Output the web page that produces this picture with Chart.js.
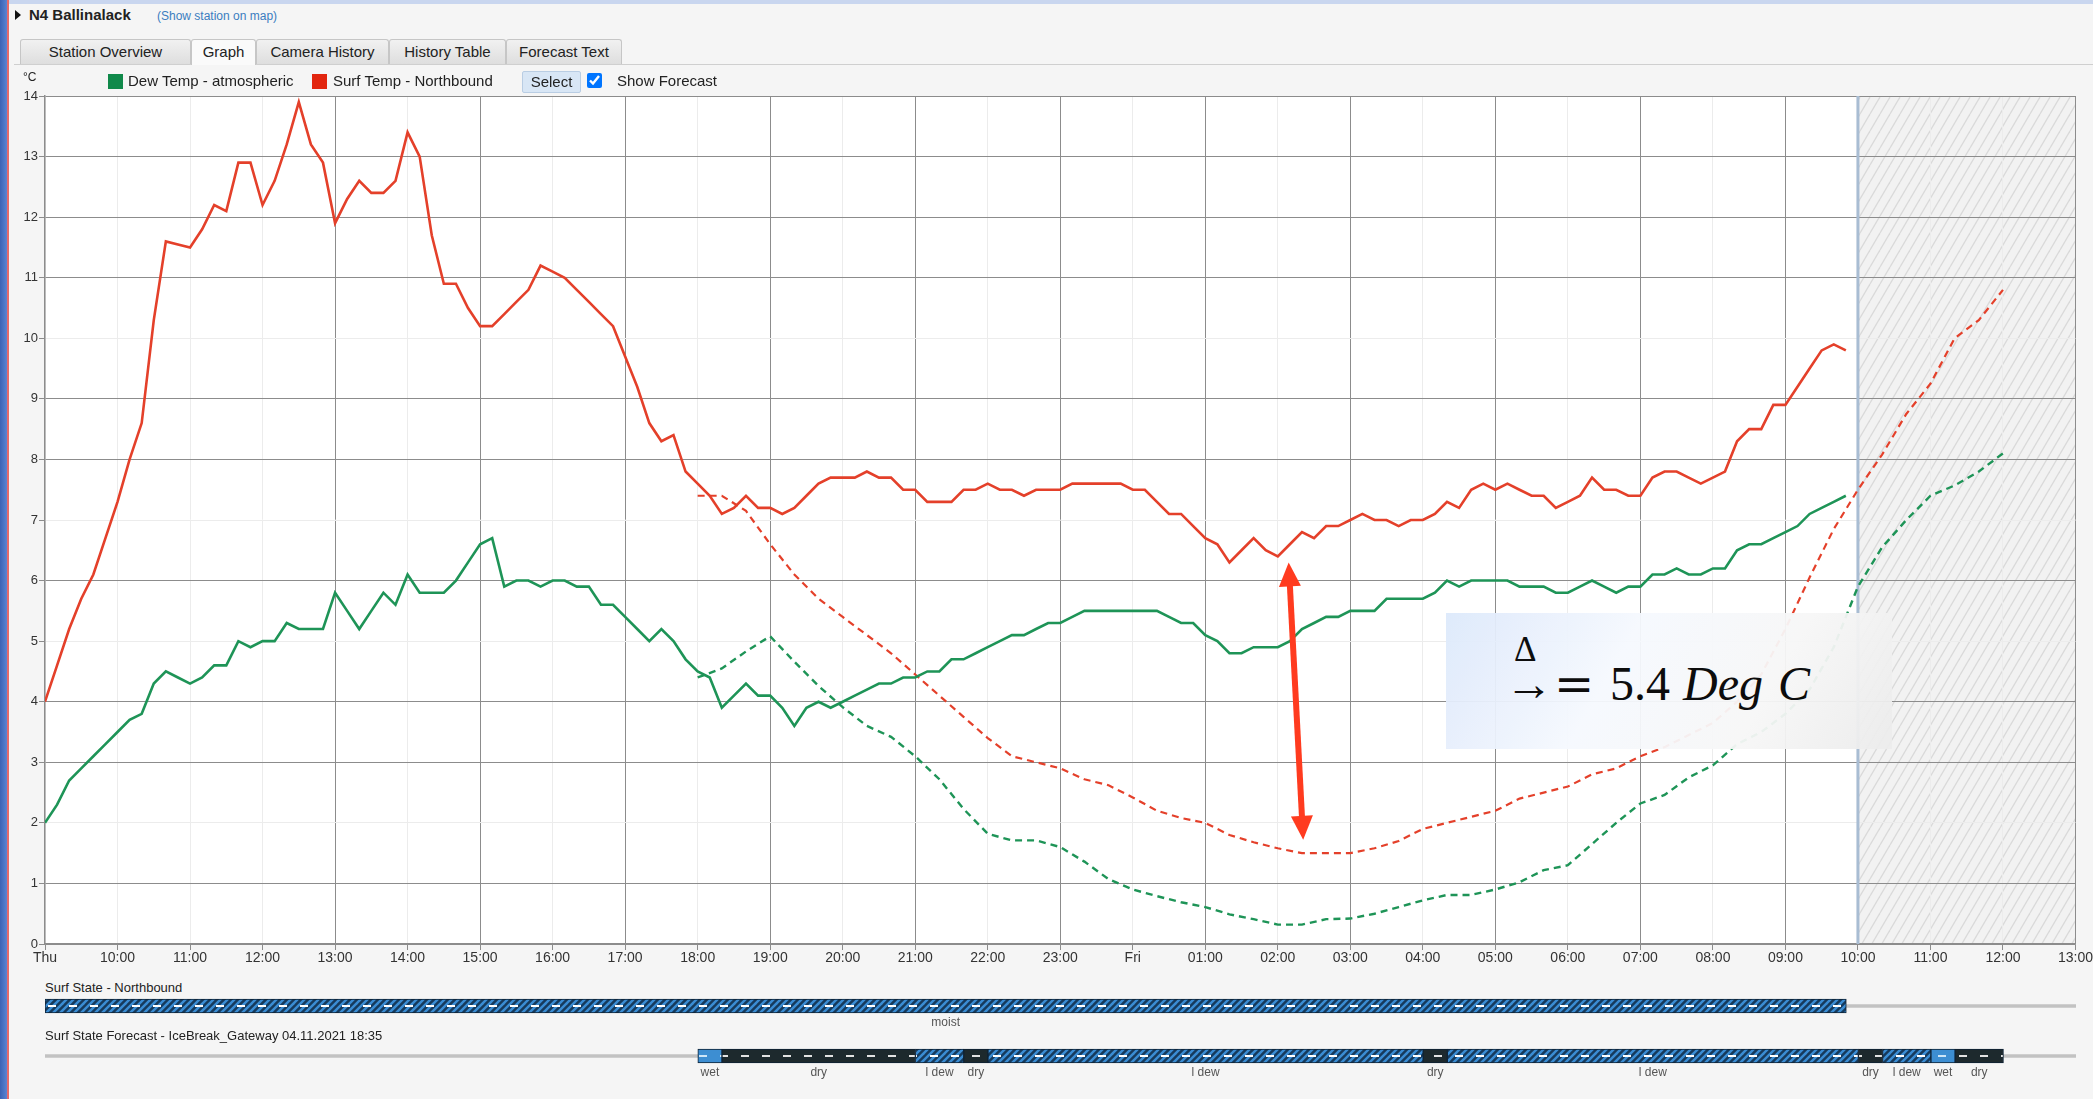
<!DOCTYPE html>
<html>
<head>
<meta charset="utf-8">
<script src="https://cdn.jsdelivr.net/npm/chart.js@4.4.1/dist/chart.umd.min.js"></script>
<style>
  html, body { margin: 0; padding: 0; }
  body { width: 2093px; height: 1099px; position: relative; overflow: hidden; background: #f5f5f5;
         font-family: "Liberation Sans", Arial, sans-serif; color: #222; }
  .abs { position: absolute; white-space: nowrap; }
  .tab { position: absolute; top: 39px; height: 24px; line-height: 24px; text-align: center; font-size: 15px;
         border: 1px solid #c6c6c6; border-bottom: none; border-radius: 3px 3px 0 0;
         background: linear-gradient(#f1f1f1, #dedede); color: #222; }
  .tab.active { background: #fafafa; height: 25px; z-index: 2; }
  .legend-box { position: absolute; top: 74px; width: 15px; height: 15px; }
  .legend-text { position: absolute; top: 72px; font-size: 15px; line-height: 18px; white-space: nowrap; }
  canvas { position: absolute; left: 0; }
  #note { position: absolute; left: 1446px; top: 613px; width: 446px; height: 136px; z-index: 5; opacity: 0.95;
          background: linear-gradient(120deg, #dde9fb 0%, #f6f9fe 38%, #f7f7f7 70%, #ececec 100%); }
  #note span { position: absolute; font-family: "Liberation Serif", "DejaVu Serif", serif; line-height: 1; color: #000; }
</style>
</head>
<body>

<!-- window edges -->
<div class="abs" style="left:0;top:0;width:2093px;height:4px;background:#c9d6ef;"></div>
<div class="abs" style="left:0;top:0;width:7px;height:1099px;background:linear-gradient(90deg,#3b62b3,#5a84d2);"></div>
<div class="abs" style="left:7px;top:0;width:2px;height:1099px;background:#e46a6a;"></div>

<!-- header -->
<div class="abs" style="left:15px;top:10px;width:0;height:0;border-top:5px solid transparent;border-bottom:5px solid transparent;border-left:6px solid #111;"></div>
<div class="abs" style="left:29px;top:6px;font-size:15px;font-weight:bold;line-height:18px;">N4 Ballinalack</div>
<div class="abs" style="left:157px;top:8px;font-size:12px;line-height:16px;color:#3b7dc0;">(Show station on map)</div>

<!-- tabs -->
<div class="tab" style="left:20px;width:169px;">Station Overview</div>
<div class="tab active" style="left:191px;width:63px;">Graph</div>
<div class="tab" style="left:256px;width:131px;">Camera History</div>
<div class="tab" style="left:389px;width:115px;">History Table</div>
<div class="tab" style="left:506px;width:114px;">Forecast Text</div>
<div class="abs" style="left:14px;top:64px;width:2079px;height:1px;background:#cfcfcf;"></div>

<!-- legend row -->
<div class="abs" style="left:23px;top:70px;font-size:12px;line-height:14px;z-index:3;">°C</div>
<div class="legend-box" style="left:108px;background:#10894a;z-index:3;"></div>
<div class="legend-text" style="left:128px;z-index:3;">Dew Temp - atmospheric</div>
<div class="legend-box" style="left:312px;background:#e2260f;z-index:3;"></div>
<div class="legend-text" style="left:333px;z-index:3;">Surf Temp - Northbound</div>
<div class="abs" style="left:522px;top:71px;width:57px;height:20px;line-height:20px;text-align:center;font-size:15px;
     background:#d8e6f5;border:1px solid #b9cde3;border-radius:2px;z-index:3;">Select</div>
<input type="checkbox" checked class="abs" style="left:587px;top:73px;margin:0;width:15px;height:15px;z-index:3;">
<div class="legend-text" style="left:617px;z-index:3;">Show Forecast</div>

<canvas id="tempChart" width="2093" height="900" style="top:80px;"></canvas>

<div class="abs" style="left:45px;top:980px;font-size:13px;line-height:16px;">Surf State - Northbound</div>
<canvas id="northState" width="2093" height="42" style="top:996px;"></canvas>

<div class="abs" style="left:45px;top:1028px;font-size:13px;line-height:16px;">Surf State Forecast - IceBreak_Gateway 04.11.2021 18:35</div>
<canvas id="forecastState" width="2093" height="42" style="top:1046px;"></canvas>

<!-- pasted annotation -->
<div id="note">
  <span style="left:68px;top:19px;font-size:35px;">Δ</span>
  <span style="left:59px;top:47px;font-size:48px;">→</span>
  <span style="left:108px;top:47px;font-size:48px;font-family:'DejaVu Serif',serif;">=</span>
  <span style="left:164px;top:47px;font-size:48px;">5.4</span>
  <span style="left:237px;top:47px;font-size:48px;font-style:italic;">Deg</span>
  <span style="left:332px;top:47px;font-size:48px;font-style:italic;">C</span>
</div>

<script>
// hours counted from Thu 00:00, so 24 = Fri 00:00
const obsStartHour = 9;      // Thu 09:00
const obsStepMin = 10;
const fcStartHour = 18;      // forecast issued Thu 18:00
const fcStepMin = 20;
const nowHour = 34;          // Fri 10:00, start of the shaded forecast area

const xTickLabels = ['Thu', '10:00', '11:00', '12:00', '13:00', '14:00', '15:00', '16:00', '17:00',
    '18:00', '19:00', '20:00', '21:00', '22:00', '23:00', 'Fri', '01:00', '02:00', '03:00', '04:00',
    '05:00', '06:00', '07:00', '08:00', '09:00', '10:00', '11:00', '12:00', '13:00'];

// measured surface temp, every 10 min from Thu 09:00
const surfTemp = [
    4.0, 4.6, 5.2, 5.7, 6.1, 6.7, 7.3, 8.0, 8.6, 10.3,
    11.6, 11.55, 11.5, 11.8, 12.2, 12.1, 12.9, 12.9, 12.2, 12.6,
    13.2, 13.9, 13.2, 12.9, 11.9, 12.3, 12.6, 12.4, 12.4, 12.6,
    13.4, 13.0, 11.7, 10.9, 10.9, 10.5, 10.2, 10.2, 10.4, 10.6,
    10.8, 11.2, 11.1, 11.0, 10.8, 10.6, 10.4, 10.2, 9.7, 9.2,
    8.6, 8.3, 8.4, 7.8, 7.6, 7.4, 7.1, 7.2, 7.4, 7.2,
    7.2, 7.1, 7.2, 7.4, 7.6, 7.7, 7.7, 7.7, 7.8, 7.7,
    7.7, 7.5, 7.5, 7.3, 7.3, 7.3, 7.5, 7.5, 7.6, 7.5,
    7.5, 7.4, 7.5, 7.5, 7.5, 7.6, 7.6, 7.6, 7.6, 7.6,
    7.5, 7.5, 7.3, 7.1, 7.1, 6.9, 6.7, 6.6, 6.3, 6.5,
    6.7, 6.5, 6.4, 6.6, 6.8, 6.7, 6.9, 6.9, 7.0, 7.1,
    7.0, 7.0, 6.9, 7.0, 7.0, 7.1, 7.3, 7.2, 7.5, 7.6,
    7.5, 7.6, 7.5, 7.4, 7.4, 7.2, 7.3, 7.4, 7.7, 7.5,
    7.5, 7.4, 7.4, 7.7, 7.8, 7.8, 7.7, 7.6, 7.7, 7.8,
    8.3, 8.5, 8.5, 8.9, 8.9, 9.2, 9.5, 9.8, 9.9, 9.8
];

// measured dew temp, same times
const dewTemp = [
    2.0, 2.3, 2.7, 2.9, 3.1, 3.3, 3.5, 3.7, 3.8, 4.3,
    4.5, 4.4, 4.3, 4.4, 4.6, 4.6, 5.0, 4.9, 5.0, 5.0,
    5.3, 5.2, 5.2, 5.2, 5.8, 5.5, 5.2, 5.5, 5.8, 5.6,
    6.1, 5.8, 5.8, 5.8, 6.0, 6.3, 6.6, 6.7, 5.9, 6.0,
    6.0, 5.9, 6.0, 6.0, 5.9, 5.9, 5.6, 5.6, 5.4, 5.2,
    5.0, 5.2, 5.0, 4.7, 4.5, 4.4, 3.9, 4.1, 4.3, 4.1,
    4.1, 3.9, 3.6, 3.9, 4.0, 3.9, 4.0, 4.1, 4.2, 4.3,
    4.3, 4.4, 4.4, 4.5, 4.5, 4.7, 4.7, 4.8, 4.9, 5.0,
    5.1, 5.1, 5.2, 5.3, 5.3, 5.4, 5.5, 5.5, 5.5, 5.5,
    5.5, 5.5, 5.5, 5.4, 5.3, 5.3, 5.1, 5.0, 4.8, 4.8,
    4.9, 4.9, 4.9, 5.0, 5.2, 5.3, 5.4, 5.4, 5.5, 5.5,
    5.5, 5.7, 5.7, 5.7, 5.7, 5.8, 6.0, 5.9, 6.0, 6.0,
    6.0, 6.0, 5.9, 5.9, 5.9, 5.8, 5.8, 5.9, 6.0, 5.9,
    5.8, 5.9, 5.9, 6.1, 6.1, 6.2, 6.1, 6.1, 6.2, 6.2,
    6.5, 6.6, 6.6, 6.7, 6.8, 6.9, 7.1, 7.2, 7.3, 7.4
];

// forecast, every 20 min from Thu 18:00 to Fri 12:00
const surfForecast = [
    7.4, 7.4, 7.15, 6.6, 6.1, 5.7, 5.4, 5.1, 4.8, 4.45,
    4.1, 3.75, 3.4, 3.1, 3.0, 2.9, 2.72, 2.62, 2.42, 2.2,
    2.08, 2.0, 1.8, 1.68, 1.58, 1.5, 1.5, 1.5, 1.58, 1.7,
    1.9, 2.0, 2.1, 2.2, 2.4, 2.5, 2.6, 2.8, 2.9, 3.1,
    3.25, 3.45, 3.65, 4.0, 4.45, 5.2, 6.05, 6.85, 7.5, 8.08,
    8.75, 9.25, 10.0, 10.3, 10.8
];
const dewForecast = [
    4.4, 4.55, 4.83, 5.08, 4.66, 4.26, 3.91, 3.6, 3.42, 3.1,
    2.72, 2.23, 1.82, 1.71, 1.71, 1.6, 1.36, 1.07, 0.9, 0.79,
    0.69, 0.61, 0.49, 0.41, 0.32, 0.32, 0.41, 0.42, 0.5, 0.61,
    0.72, 0.81, 0.81, 0.9, 1.02, 1.22, 1.3, 1.65, 2.0, 2.32,
    2.46, 2.75, 2.95, 3.3, 3.5, 3.8, 4.2, 4.9, 5.9, 6.55,
    7.0, 7.4, 7.57, 7.8, 8.1
];

// surface state strips (hours from Thu 00:00)
const northStateFrom = [9];
const northStateTo = [33 + 50 / 60];
const northStateName = ['moist'];

const fcStateFrom = [18, 18 + 1 / 3, 21, 21 + 2 / 3, 22, 28, 28 + 1 / 3, 34, 34 + 1 / 3, 35, 35 + 1 / 3];
const fcStateTo = [18 + 1 / 3, 21, 21 + 2 / 3, 22, 28, 28 + 1 / 3, 34, 34 + 1 / 3, 35, 35 + 1 / 3, 36];
const fcStateName = ['wet', 'dry', 'l dew', 'dry', 'l dew', 'dry', 'l dew', 'dry', 'l dew', 'wet', 'dry'];

// red arrow drawn over the chart (hour, degC)
const arrowFrom = [26.15, 6.3];
const arrowTo = [26.35, 1.72];

const RED = '#e4402a';
const GREEN = '#1e9457';
const GRID_DARK = '#8c8c8c';
const GRID_FAINT = '#ececec';
const darkHours = [13, 15, 17, 19, 21, 23, 25, 27, 29, 31, 33, 37];
const faintTemps = [2, 5, 7, 10];

Chart.defaults.font.family = '"Liberation Sans", Arial, sans-serif';
Chart.defaults.color = '#333';

function toPoints(values, startHour, stepMin) {
    return values.map((v, k) => ({ x: startHour + k * stepMin / 60, y: v }));
}

// light grey diagonal hatch for the forecast-only part
function makeShadePattern() {
    const tile = document.createElement('canvas');
    tile.width = 10;
    tile.height = 17;
    const t = tile.getContext('2d');
    t.fillStyle = '#f2f2f2';
    t.fillRect(0, 0, 10, 17);
    t.strokeStyle = '#d9d9d9';
    t.lineWidth = 1.3;
    for (let i = -1; i <= 1; i++) {
        t.beginPath();
        t.moveTo(i * 10, 17);
        t.lineTo(i * 10 + 10, 0);
        t.stroke();
    }
    return t.createPattern(tile, 'repeat');
}

const shadePlugin = {
    id: 'shade',
    beforeDraw(chart) {
        const { ctx, chartArea: a, scales: { x } } = chart;
        ctx.save();
        ctx.fillStyle = '#ffffff';
        ctx.fillRect(a.left, a.top, a.width, a.height);
        const x0 = x.getPixelForValue(nowHour);
        ctx.fillStyle = makeShadePattern();
        ctx.fillRect(x0, a.top, a.right - x0, a.height);
        ctx.restore();
    },
    beforeDatasetsDraw(chart) {
        const { ctx, chartArea: a, scales: { x } } = chart;
        const x0 = x.getPixelForValue(nowHour);
        ctx.save();
        ctx.strokeStyle = '#a9bdd3';
        ctx.lineWidth = 3;
        ctx.beginPath();
        ctx.moveTo(x0, a.top);
        ctx.lineTo(x0, a.bottom);
        ctx.stroke();
        ctx.restore();
    }
};

function drawHead(ctx, tipX, tipY, ang, len, half) {
    ctx.beginPath();
    ctx.moveTo(tipX, tipY);
    ctx.lineTo(tipX - len * Math.cos(ang) + half * Math.sin(ang), tipY - len * Math.sin(ang) - half * Math.cos(ang));
    ctx.lineTo(tipX - len * Math.cos(ang) - half * Math.sin(ang), tipY - len * Math.sin(ang) + half * Math.cos(ang));
    ctx.closePath();
    ctx.fill();
}

const arrowPlugin = {
    id: 'deltaArrow',
    afterDatasetsDraw(chart) {
        const { ctx, scales: { x, y } } = chart;
        const x1 = x.getPixelForValue(arrowFrom[0]), y1 = y.getPixelForValue(arrowFrom[1]);
        const x2 = x.getPixelForValue(arrowTo[0]), y2 = y.getPixelForValue(arrowTo[1]);
        const ang = Math.atan2(y2 - y1, x2 - x1);
        const len = 24, half = 11;
        ctx.save();
        ctx.strokeStyle = '#ff3b1f';
        ctx.fillStyle = '#ff3b1f';
        ctx.lineWidth = 6;
        ctx.beginPath();
        ctx.moveTo(x1 + (len - 2) * Math.cos(ang), y1 + (len - 2) * Math.sin(ang));
        ctx.lineTo(x2 - (len - 2) * Math.cos(ang), y2 - (len - 2) * Math.sin(ang));
        ctx.stroke();
        drawHead(ctx, x2, y2, ang, len, half);
        drawHead(ctx, x1, y1, ang + Math.PI, len, half);
        ctx.restore();
    }
};

new Chart(document.getElementById('tempChart'), {
    type: 'line',
    data: {
        datasets: [
            { label: 'Dew Temp - atmospheric', data: toPoints(dewTemp, obsStartHour, obsStepMin),
              borderColor: GREEN, borderWidth: 2.6 },
            { label: 'Surf Temp - Northbound', data: toPoints(surfTemp, obsStartHour, obsStepMin),
              borderColor: RED, borderWidth: 2.6 },
            { label: 'Dew Temp forecast', data: toPoints(dewForecast, fcStartHour, fcStepMin),
              borderColor: GREEN, borderWidth: 2.4, borderDash: [7, 5] },
            { label: 'Surf Temp forecast', data: toPoints(surfForecast, fcStartHour, fcStepMin),
              borderColor: RED, borderWidth: 2.2, borderDash: [7, 5] }
        ]
    },
    options: {
        responsive: false,
        animation: false,
        events: [],
        elements: { point: { radius: 0 }, line: { tension: 0, fill: false } },
        layout: { padding: { top: 16, right: 17, left: 0, bottom: 0 } },
        plugins: { legend: { display: false }, tooltip: { enabled: false } },
        scales: {
            x: {
                type: 'linear', min: 9, max: 37,
                afterFit(scale) { scale.height = 36; },
                border: { color: GRID_DARK, width: 1.5 },
                grid: {
                    color: (c) => (c.tick && darkHours.includes(c.tick.value)) ? GRID_DARK : GRID_FAINT,
                    tickColor: GRID_DARK, tickLength: 6
                },
                ticks: {
                    stepSize: 1, autoSkip: false, maxRotation: 0, padding: 0,
                    font: { size: 14 }, color: '#333',
                    callback: (v) => xTickLabels[v - 9]
                }
            },
            y: {
                min: 0, max: 14,
                afterFit(scale) { scale.width = 45; },
                border: { color: GRID_DARK, width: 1.5 },
                grid: {
                    color: (c) => (c.tick && faintTemps.includes(c.tick.value)) ? GRID_FAINT : GRID_DARK,
                    tickColor: GRID_DARK, tickLength: 6
                },
                ticks: { stepSize: 1, padding: 1, font: { size: 13 }, color: '#333' }
            }
        }
    },
    plugins: [shadePlugin, arrowPlugin]
});

// strip patterns, tile height = strip canvas height so the dash sits in the bar middle
function makeStatePattern(bg, stripe, dash) {
    const tile = document.createElement('canvas');
    tile.width = 21;
    tile.height = 42;
    const t = tile.getContext('2d');
    t.fillStyle = bg;
    t.fillRect(0, 0, 21, 42);
    if (stripe) {
        t.strokeStyle = stripe;
        t.lineWidth = 2.4;
        for (let c = -42; c <= 63; c += 7) {
            t.beginPath();
            t.moveTo(c, 42);
            t.lineTo(c + 42, 0);
            t.stroke();
        }
    }
    t.fillStyle = dash;
    t.fillRect(6, 9, 8, 2);
    return t.createPattern(tile, 'repeat');
}

const statePatterns = {
    'moist': makeStatePattern('#163a5c', '#3b8dd4', '#ffffff'),
    'l dew': makeStatePattern('#163a5c', '#3b8dd4', '#ffffff'),
    'dry': makeStatePattern('#1d292d', null, '#e2e2e2'),
    'wet': makeStatePattern('#3d8ed2', null, '#cde6f8')
};

const stateLabelPlugin = {
    id: 'stateLabels',
    afterDatasetsDraw(chart) {
        const { ctx, chartArea: a, scales: { x } } = chart;
        const names = chart.options.stateNames, from = chart.options.stateFrom, to = chart.options.stateTo;
        ctx.save();
        ctx.font = '12px "Liberation Sans", Arial, sans-serif';
        ctx.fillStyle = '#555';
        ctx.textAlign = 'center';
        ctx.textBaseline = 'top';
        names.forEach((n, k) => {
            const cx = (x.getPixelForValue(from[k]) + x.getPixelForValue(to[k])) / 2;
            ctx.fillText(n, cx, a.bottom + 1);
        });
        ctx.restore();
    }
};

function stateChart(id, from, to, names) {
    return new Chart(document.getElementById(id), {
        type: 'bar',
        data: {
            labels: ['state'],
            datasets: [
                { data: names.map((n, k) => ({ x: [from[k], to[k]], y: 'state' })),
                  backgroundColor: (c) => statePatterns[names[c.dataIndex]],
                  borderColor: '#0e2235', borderWidth: 1, borderSkipped: false,
                  barThickness: 14, grouped: false, order: 1 },
                { data: [{ x: [9, 37], y: 'state' }], backgroundColor: '#c2c2c2',
                  borderWidth: 0, barThickness: 3, grouped: false, order: 2 }
            ]
        },
        options: {
            indexAxis: 'y',
            responsive: false,
            animation: false,
            events: [],
            stateNames: names, stateFrom: from, stateTo: to,
            layout: { padding: { top: 0, right: 17, left: 45, bottom: 22 } },
            plugins: { legend: { display: false }, tooltip: { enabled: false } },
            scales: {
                x: { type: 'linear', min: 9, max: 37, display: false },
                y: { display: false }
            }
        },
        plugins: [stateLabelPlugin]
    });
}

stateChart('northState', northStateFrom, northStateTo, northStateName);
stateChart('forecastState', fcStateFrom, fcStateTo, fcStateName);
</script>
</body>
</html>
